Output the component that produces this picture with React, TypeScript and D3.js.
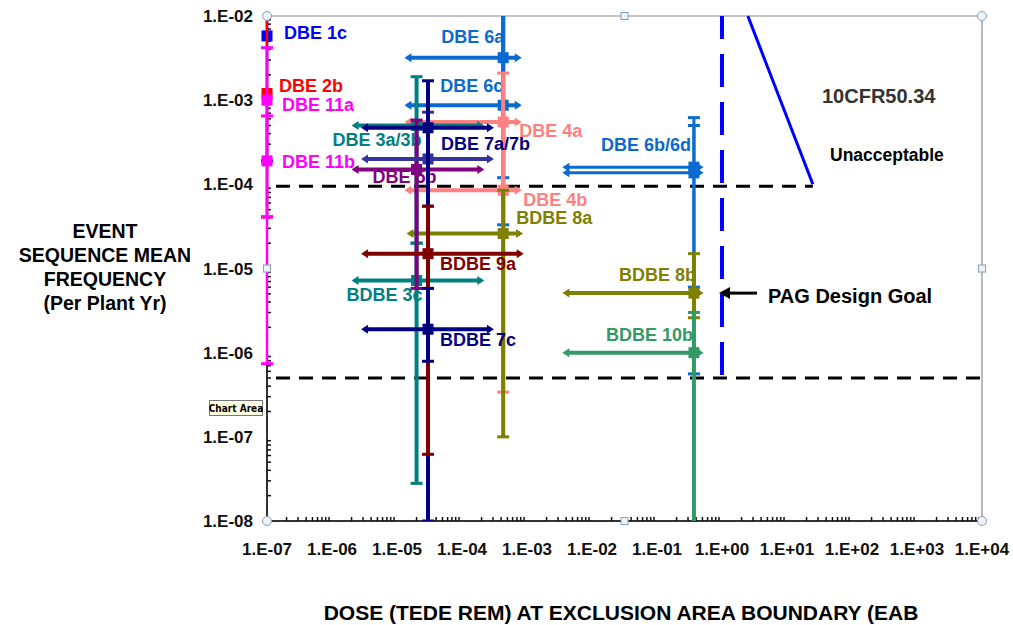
import React from 'react';
import * as d3 from 'd3';

// dose (rem) and frequency (per plant yr)
const seriesNames = ['DBE 1c', 'DBE 2b', 'DBE 11a', 'DBE 11b', 'DBE 6a', 'DBE 6c', 'DBE 4a', 'DBE 4b', 'BDBE 8a', 'DBE 3a/3b', 'BDBE 3c', 'DBE 5b', 'DBE 7b', 'DBE 7a/7b', 'BDBE 9a', 'BDBE 7c', 'DBE 6b/6d', 'DBE 6d', 'BDBE 8b', 'BDBE 10b'];
const seriesLabels = ['DBE 1c', 'DBE 2b', 'DBE 11a', 'DBE 11b', 'DBE 6a', 'DBE 6c', 'DBE 4a', 'DBE 4b', 'BDBE 8a', 'DBE 3a/3b', 'BDBE 3c', 'DBE 5b', '', 'DBE 7a/7b', 'BDBE 9a', 'BDBE 7c', 'DBE 6b/6d', '', 'BDBE 8b', 'BDBE 10b'];
const doseMean = [1e-7, 1e-7, 1e-7, 1e-7, 4.3e-4, 4.3e-4, 4.3e-4, 4.3e-4, 4.3e-4, 2e-5, 2e-5, 2e-5, 3e-5, 3e-5, 3e-5, 3e-5, 0.37, 0.37, 0.37, 0.37];
const doseLow = [null, null, null, null, 1.3e-5, 1.3e-5, 1.3e-5, 1.3e-5, 1.4e-5, 2e-6, 2e-6, 2e-6, 2.8e-6, 2.8e-6, 2.8e-6, 2.8e-6, 3.5e-3, 3.5e-3, 3.5e-3, 3.5e-3];
const doseHigh = [null, null, null, null, 8.3e-4, 8.3e-4, 8.3e-4, 8.3e-4, 8.7e-4, 2.2e-4, 2.2e-4, 2.2e-4, 3.1e-4, 3.1e-4, 8.9e-4, 3.1e-4, 0.52, 0.52, 0.52, 0.52];
const freqMean = [5.8e-3, 1.2e-3, 1e-3, 1.9e-4, 3.2e-3, 8.7e-4, 5.5e-4, 8.5e-5, 2.6e-5, 5e-4, 7.2e-6, 1.5e-4, 2e-4, 4.7e-4, 1.5e-5, 1.9e-6, 1.6e-4, 1.37e-4, 5.1e-6, 1e-6];
const freqLow = [1.9e-4, 4.1e-5, 7.4e-7, 4.1e-5, 1.2e-4, 3.3e-5, 8.5e-5, 3.4e-7, 1e-7, 2e-5, 2.8e-8, 5.8e-6, 5.5e-5, 1e-8, 6.2e-8, 7.9e-7, 5.6e-7, 6e-6, 2.6e-6, 1e-9];
const freqHigh = [1.2e-2, 1.2e-2, 4.2e-3, 6.5e-4, 3e-2, 3e-2, 2.1e-3, 5.5e-4, 8.5e-5, 1.9e-3, 2e-5, 5.8e-4, 7.2e-4, 1.7e-3, 5.5e-5, 5.8e-6, 6.2e-4, 5e-4, 1.5e-5, 3e-6];
const seriesColors = ['#0000ff', '#ff0000', '#ff00ff', '#ff00ff', '#0a6ad0', '#0a6ad0', '#ff8080', '#ff8080', '#808000', '#008080', '#008080', '#800080', '#333399', '#000080', '#800000', '#000080', '#0a6ad0', '#0a6ad0', '#808000', '#339966'];
// where each label sits relative to its point, px
const labelOffsets = [[17, -3], [12, -8], [15, 4], [15, 1], [-62, -21], [-63, -20], [16, 9], [20, 9], [13, -16], [-84, 14], [-70, 14], [-44, 7], [0, 0], [13, 16], [12, 10], [12, 10], [-93, -23], [0, 0], [-75, -19], [-88, -18]];
const barWidths = [4, 4, 4, 4, 4, 4, 4, 4, 4, 4, 4, 4, 4, 4, 4, 4, 3, 3, 4, 4];

const xTickValues = [1e-7, 1e-6, 1e-5, 1e-4, 1e-3, 1e-2, 1e-1, 1e0, 1e1, 1e2, 1e3, 1e4];
const xTickLabels = ['1.E-07', '1.E-06', '1.E-05', '1.E-04', '1.E-03', '1.E-02', '1.E-01', '1.E+00', '1.E+01', '1.E+02', '1.E+03', '1.E+04'];
const yTickValues = [1e-2, 1e-3, 1e-4, 1e-5, 1e-6, 1e-7, 1e-8];
const yTickLabels = ['1.E-02', '1.E-03', '1.E-04', '1.E-05', '1.E-06', '1.E-07', '1.E-08'];

// limit lines
const acceptLimit = 1e-4;
const lowerLimit = 5e-7;
const pagDose = 1;
const cfrLine = [[2.5, 1e-2], [25, 1e-4]];
const pagArrowFreq = 5.1e-6;

const yTitle = ['EVENT', 'SEQUENCE MEAN', 'FREQUENCY', '(Per Plant Yr)'];
const xTitle = 'DOSE (TEDE REM) AT EXCLUSION AREA BOUNDARY (EAB';

const W = 1013;
const H = 625;
const margin = { top: 16, right: 31, bottom: 104, left: 267 };
const font = '"Liberation Sans", Arial, sans-serif';

const App = () => {
    const x = d3.scaleLog().domain([1e-7, 1e4]).range([margin.left, W - margin.right]);
    const y = d3.scaleLog().domain([1e-8, 1e-2]).range([H - margin.bottom, margin.top]);
    const x0 = x.range()[0], x1 = x.range()[1];
    const y0 = y.range()[0], y1 = y.range()[1];

    const minorX = [];
    xTickValues.slice(0, -1).forEach(v => { for (let k = 2; k < 10; k++) minorX.push(v * k); });
    const minorY = [];
    yTickValues.slice(1).forEach(v => { for (let k = 2; k < 10; k++) minorY.push(v * k); });

    const line = d3.line();

    return (
        <svg width={W} height={H} style={{ position: 'absolute', left: 0, top: 0, background: '#fff' }} fontFamily={font}>
            <defs>
                <clipPath id="plot">
                    <rect x={x0 - 14} y={y1} width={x1 - x0 + 20} height={y0 - y1} />
                </clipPath>
            </defs>

            {/* frame */}
            <line x1={x0} x2={x1} y1={y1} y2={y1} stroke="#8c8c8c" strokeWidth={1.2} />
            <line x1={x1} x2={x1} y1={y1} y2={y0} stroke="#8c8c8c" strokeWidth={1.2} />
            <line x1={x0} x2={x1} y1={y0} y2={y0} stroke="#333" strokeWidth={2} />
            <line x1={x0} x2={x0} y1={y0} y2={y1} stroke="#333" strokeWidth={2} />
            {minorX.map((v, i) => (
                <line key={'mx' + i} x1={x(v)} x2={x(v)} y1={y0} y2={y0 - 4} stroke="#111" strokeWidth={1.5} />
            ))}
            {minorY.map((v, i) => (
                <line key={'my' + i} x1={x0} x2={x0 + 4} y1={y(v)} y2={y(v)} stroke="#111" strokeWidth={1.5} />
            ))}

            {xTickValues.map((v, i) => (
                <text key={'xt' + i} x={x(v)} y={555} textAnchor="middle" fontSize={17} fontWeight="bold" fill="#111">{xTickLabels[i]}</text>
            ))}
            {yTickValues.map((v, i) => (
                <text key={'yt' + i} x={253} y={y(v) + 6} textAnchor="end" fontSize={17} fontWeight="bold" fill="#111">{yTickLabels[i]}</text>
            ))}

            {/* reference lines */}
            <line x1={x0} x2={x(cfrLine[1][0])} y1={y(acceptLimit) + 2} y2={y(acceptLimit) + 2} stroke="#000" strokeWidth={3} strokeDasharray="14 9" strokeDashoffset={14} />
            <line x1={x0} x2={x1} y1={y(lowerLimit)} y2={y(lowerLimit)} stroke="#000" strokeWidth={3} strokeDasharray="14 9" strokeDashoffset={14} />
            <line x1={x(pagDose)} x2={x(pagDose)} y1={y(lowerLimit)} y2={y1} stroke="#0000ff" strokeWidth={4} strokeDasharray="33 15" strokeDashoffset={-3} />
            <path d={line(cfrLine.map(d => [x(d[0]), y(d[1])]))} stroke="#0000ff" strokeWidth={3} fill="none" />

            <g clipPath="url(#plot)">
                {seriesNames.map((name, i) => {
                    const c = seriesColors[i];
                    const px = x(doseMean[i]);
                    const py = y(freqMean[i]);
                    const lo = y(freqLow[i]);
                    const hi = y(freqHigh[i]);
                    const [dx, dy] = labelOffsets[i];
                    const bw = barWidths[i];
                    return (
                        <g key={name}>
                            <line x1={px} x2={px} y1={lo} y2={hi} stroke={c} strokeWidth={doseLow[i] == null ? 2.5 : bw} />
                            <line x1={px - 6} x2={px + 6} y1={lo} y2={lo} stroke={c} strokeWidth={3} />
                            <line x1={px - 6} x2={px + 6} y1={hi} y2={hi} stroke={c} strokeWidth={3} />
                            {doseLow[i] != null && (
                                <g>
                                    <line x1={x(doseLow[i]) + 3} x2={x(doseHigh[i]) - 3} y1={py} y2={py} stroke={c} strokeWidth={bw} />
                                    <path d={`M${x(doseLow[i])},${py}l7,-4.5v9z`} fill={c} />
                                    <path d={`M${x(doseHigh[i])},${py}l-7,-4.5v9z`} fill={c} />
                                </g>
                            )}
                            <rect x={px - 5.5} y={py - 5.5} width={11} height={11} fill={c} />
                            {seriesLabels[i] && (
                                <text x={px + dx} y={py + dy} dy="0.36em" fontSize={18} fontWeight="bold" fill={c}>{seriesLabels[i]}</text>
                            )}
                        </g>
                    );
                })}
            </g>

            {/* annotations */}
            <line x1={x(pagDose) + 5} x2={757} y1={y(pagArrowFreq)} y2={y(pagArrowFreq)} stroke="#000" strokeWidth={3} />
            <path d={`M${x(pagDose) - 3},${y(pagArrowFreq)}l11,-6v12z`} fill="#000" />
            <text x={768} y={y(pagArrowFreq) + 3} dy="0.36em" fontSize={20} fontWeight="bold" fill="#000">PAG Design Goal</text>
            <text x={822} y={96} dy="0.36em" fontSize={20} fontWeight="bold" fill="#333">10CFR50.34</text>
            <text x={830} y={155} dy="0.36em" fontSize={17.5} fontWeight="bold" fill="#000">Unacceptable</text>

            {yTitle.map((t, i) => (
                <text key={t} x={105} y={231 + i * 24} dy="0.36em" textAnchor="middle" fontSize={19.5} fontWeight="bold" fill="#000">{t}</text>
            ))}
            <text x={621} y={612} dy="0.36em" textAnchor="middle" fontSize={21} fontWeight="bold" fill="#000">{xTitle}</text>

            {/* selection handles */}
            {[[x0, y1], [x1, y1], [x0, y0], [x1, y0]].map((p, i) => (
                <circle key={'h' + i} cx={p[0]} cy={p[1]} r={4.5} fill="#eef3f7" stroke="#8ba0b4" strokeWidth={1} />
            ))}
            {[[(x0 + x1) / 2, y1], [(x0 + x1) / 2, y0], [x0, (y0 + y1) / 2], [x1, (y0 + y1) / 2]].map((p, i) => (
                <rect key={'s' + i} x={p[0] - 3.5} y={p[1] - 3.5} width={7} height={7} fill="#eef3f7" stroke="#8ba0b4" strokeWidth={1} />
            ))}
            <rect x={209.5} y={400.5} width={53} height={15} fill="#ffffe1" stroke="#767676" />
            <text x={236} y={408} dy="0.36em" textAnchor="middle" fontSize={10} fontWeight="bold" fontFamily="Tahoma, 'DejaVu Sans Condensed', sans-serif" fill="#000">Chart Area</text>
        </svg>
    );
};

export default App;
